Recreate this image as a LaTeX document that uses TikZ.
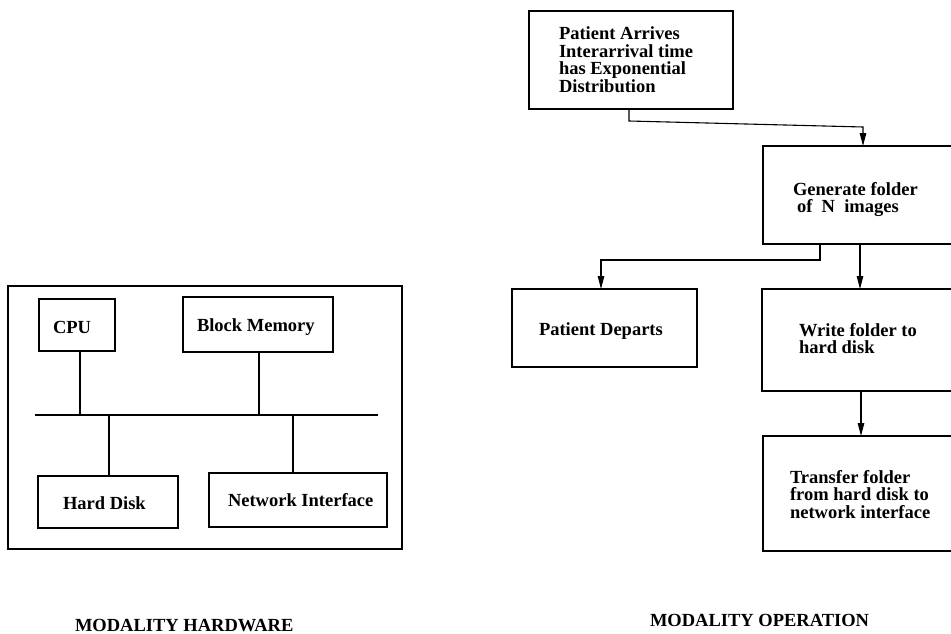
\documentclass[tikz,border=0pt]{standalone}
\usepackage{fontspec}
\setmainfont{Liberation Serif}
\usetikzlibrary{arrows.meta,calc}

\tikzset{
  box/.style={draw, line width=1.1pt, inner sep=0pt, outer sep=0pt, anchor=north west},
  txt/.style={inner sep=0pt, outer sep=0pt, anchor=north west, align=left,
              font=\fontsize{18.5}{17.7}\selectfont\bfseries},
  caption/.style={inner sep=0pt, outer sep=0pt, anchor=north west,
              font=\fontsize{18.5}{17.7}\selectfont\bfseries},
  wire/.style={line width=1.1pt},
  flow/.style={line width=1.1pt, -{Triangle[length=13pt,width=6.5pt]}},
}

\begin{document}
\begin{tikzpicture}[x=1pt, y=-1pt]
\useasboundingbox (0,0) rectangle (951,634);

% ---------- hardware block diagram ----------
\node[box, minimum width=394pt, minimum height=263pt] (hw) at (8,286) {};
\node[box, minimum width=76pt,  minimum height=52pt] (cpu) at (39,299) {};
\node[box, minimum width=150pt, minimum height=55pt] (mem) at (183,297) {};
\node[box, minimum width=140pt, minimum height=52pt] (hd)  at (38,476) {};
\node[box, minimum width=178pt, minimum height=54pt] (ni)  at (209,473) {};

\node[txt] (cpuT) at (53,321) {CPU};
\node[txt] (memT) at (197,319) {Block Memory};
\node[txt] (hdT)  at (63,497) {Hard Disk};
\node[txt] (niT)  at (228,493) {Network Interface};

% system bus
\coordinate (busL) at (35,415);
\coordinate (busR) at (378,415);
\draw[wire] (busL) -- (busR);

\coordinate (cpuP) at ($(cpu.south west)+(41,0)$);
\coordinate (memP) at ($(mem.south west)+(76,0)$);
\coordinate (hdP)  at ($(hd.north west)+(71,0)$);
\coordinate (niP)  at ($(ni.north west)+(84,0)$);
\draw[wire] (cpuP) -- (cpuP |- busL);
\draw[wire] (memP) -- (memP |- busL);
\draw[wire] (hdP)  -- (hdP |- busL);
\draw[wire] (niP)  -- (niP |- busL);

\node[caption] (capHW) at (75,619.5) {MODALITY HARDWARE};

% ---------- operation flow ----------
\node[box, minimum width=204pt, minimum height=98pt]  (arrive) at (529,11) {};
\node[box, minimum width=192pt, minimum height=98pt]  (gen)    at (763,146) {};
\node[box, minimum width=185pt, minimum height=78pt]  (depart) at (512,289) {};
\node[box, minimum width=193pt, minimum height=102pt] (write)  at (762,289) {};
\node[box, minimum width=192pt, minimum height=115pt] (xfer)   at (763,436) {};

\node[txt] (arriveT) at (559,26.5) {Patient Arrives\\Interarrival time\\has Exponential\\Distribution};
\node[txt] (genT)    at (793,182) {Generate folder\\\hspace{4pt}of\enspace N\enspace images};
\node[txt] (departT) at (539,322.5) {Patient Departs};
\node[txt] (writeT)  at (799,323) {Write folder to\\hard disk};
\node[txt] (xferT)   at (790,470) {Transfer folder\\from hard disk to\\network interface};

\node[caption] (capOP) at (650,614) {MODALITY OPERATION};

% connectors
\coordinate (a1) at ($(arrive.south west)+(100,0)$);
\coordinate (g0) at ($(gen.north west)+(100,0)$);
\draw[flow] (a1) -- ++(0,12) -- ($(g0)+(0,-19)$) -- (g0);

\coordinate (g1) at ($(gen.south west)+(57,0)$);
\coordinate (d0) at ($(depart.north west)+(89,0)$);
\draw[flow] (g1) -- ++(0,16) -| (d0);

\coordinate (g2) at ($(gen.south west)+(97,0)$);
\coordinate (w0) at ($(write.north west)+(98,0)$);
\draw[flow] (g2) -- (w0);

\coordinate (w1) at ($(write.south west)+(99,0)$);
\coordinate (x0) at ($(xfer.north west)+(98,0)$);
\draw[flow] (w1) -- (x0);
\end{tikzpicture}
\end{document}
